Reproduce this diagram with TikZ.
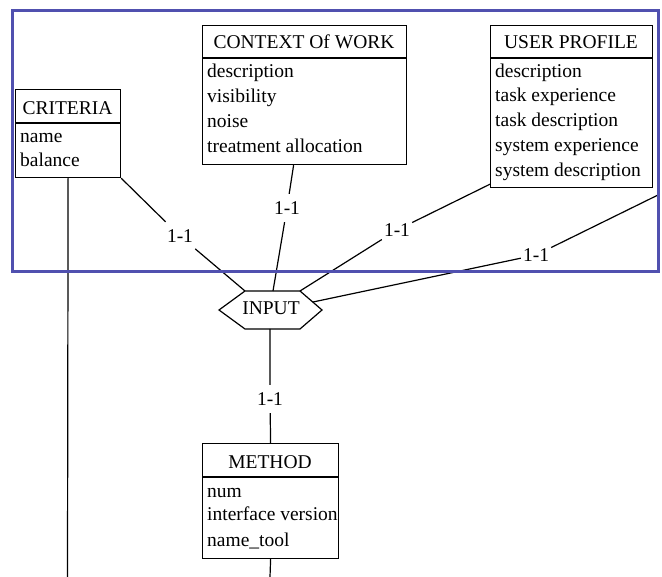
\documentclass[tikz,border=0pt]{standalone}
\usepackage{fontspec}
\setmainfont{Liberation Serif}
\begin{document}
\begin{tikzpicture}[x=1pt,y=-1pt,
  font=\fontsize{19.5}{23}\selectfont,
  ent/.style={draw=black, line width=1.2pt, inner sep=0pt, anchor=north west},
  hdr/.style={anchor=base, inner sep=0pt},
  attr/.style={anchor=base west, inner sep=0pt},
  card/.style={inner xsep=2pt, inner ysep=7.5pt},
  conn/.style={draw=black, line width=1.2pt},
  frame/.style={draw={rgb,255:red,80;green,80;blue,175}, line width=3pt}]
\useasboundingbox (0,0) rectangle (662,577);

% CRITERIA
\node[ent, minimum width=105pt, minimum height=88pt] (crit) at (15,89) {};
\draw[conn] (15,123) -- (120,123);
\node[hdr] (crith) at (67.5,114.5) {CRITERIA};
\node[attr] (crit1) at (20,143) {name};
\node[attr] (crit2) at (20,167) {balance};

% CONTEXT Of WORK
\node[ent, minimum width=204pt, minimum height=139pt] (ctx) at (202,25) {};
\draw[conn] (202,58) -- (406,58);
\node[hdr] (ctxh) at (304,49) {CONTEXT Of WORK};
\node[attr] (ctx1) at (207,78) {description};
\node[attr] (ctx2) at (207,103) {visibility};
\node[attr] (ctx3) at (207,128) {noise};
\node[attr] (ctx4) at (207,153) {treatment allocation};

% USER PROFILE
\node[ent, minimum width=162pt, minimum height=162pt] (usr) at (490,25) {};
\draw[conn] (490,58) -- (652,58);
\node[hdr] (usrh) at (571,49) {USER PROFILE};
\node[attr] (usr1) at (495,78) {description};
\node[attr] (usr2) at (495,102) {task experience};
\node[attr] (usr3) at (495,127) {task description};
\node[attr] (usr4) at (495,152) {system experience};
\node[attr] (usr5) at (495,177) {system description};

% METHOD
\node[ent, minimum width=136pt, minimum height=115pt] (meth) at (202,443) {};
\draw[conn] (202,477) -- (338,477);
\node[hdr] (methh) at (270,469) {METHOD};
\node[attr] (meth1) at (207,497) {num};
\node[attr] (meth2) at (207,521) {interface version};
\node[attr] (meth3) at (207,546) {name\_tool};

% INPUT hexagon
\node[hdr] (inp) at (271,315) {INPUT};
\coordinate (hL) at (219,310);
\coordinate (hTL) at (245,291);
\coordinate (hTR) at (300,291);
\coordinate (hR) at (322,310);
\coordinate (hBR) at (300,329);
\coordinate (hBL) at (245,329);
\coordinate (hTC) at (273,291);
\coordinate (hRE) at (313,302);
\coordinate (hB) at (270,329);
\draw[conn] (hL) -- (hTL) -- (hTR) -- (hR) -- (hBR) -- (hBL) -- cycle;

% free ends
\coordinate (ext) at (658,195);
\coordinate (cEnd) at (67.5,577);
\coordinate (mEnd) at (270,577);

% cardinality labels
\node[card] (c1) at (180,236) {1-1};
\node[card] (c2) at (287,208) {1-1};
\node[card] (c3) at (397,230) {1-1};
\node[card] (c4) at (536,255) {1-1};
\node[card] (c5) at (270,399) {1-1};

% connectors
\draw[conn] (crit.south east) -- (c1) -- (hTL);
\draw[conn] ([xshift=-11pt]ctx.south) -- (c2) -- (hTC);
\draw[conn] ([yshift=4pt]usr.south west) -- (c3) -- (hTR);
\draw[conn] (ext) -- (c4) -- (hRE);
\draw[conn] (hB) -- (c5) -- (meth.north);
\draw[conn] (crit.south) -- (cEnd);
\draw[conn] (meth.south) -- (mEnd);

% frame
\draw[frame] (12.5,10.5) rectangle (658.5,272);
\end{tikzpicture}
\end{document}
